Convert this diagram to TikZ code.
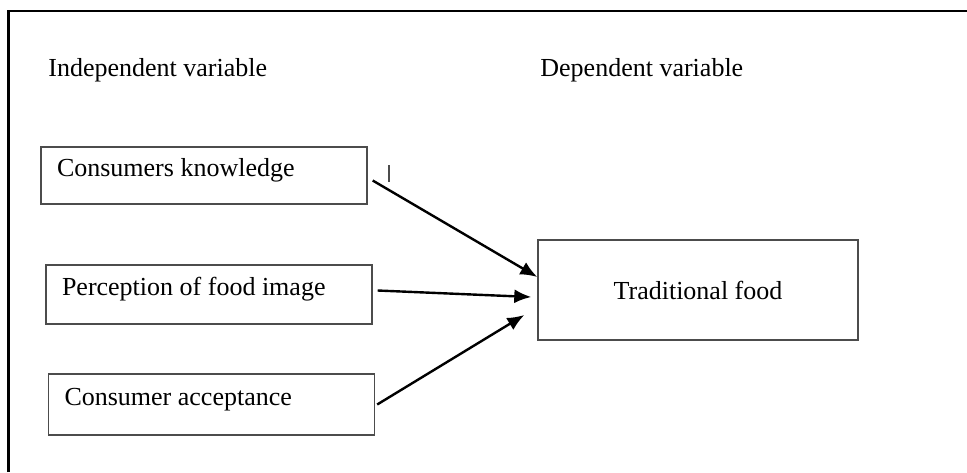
\documentclass[tikz,border=0pt]{standalone}
\usepackage{fontspec}
\setmainfont{Liberation Serif}
\usetikzlibrary{arrows.meta}

\begin{document}
\begin{tikzpicture}[x=0.5pt, y=-0.5pt,
            every node/.style={font=\fontsize{13}{15.6}\selectfont},
            heading/.style={anchor=base west, inner sep=0pt},
            varbox/.style={draw=black!70, line width=0.7pt, minimum height=30pt,
              text width=147pt, align=flush left, inner xsep=8pt,
              text height=9pt, text depth=8pt},
            arr/.style={-{Latex[length=8.5pt,width=7pt]}, line width=1.2pt, color=black}]
            \useasboundingbox (0,0) rectangle (967,472);
            \draw[line width=1.1pt] (8.5,472) -- (8.5,11) -- (967,11);
            \node[heading] (indep) at (48,76) {Independent variable};
            \node[heading] (dep) at (540,76) {Dependent variable};
            \node[varbox, minimum height=28.5pt] (ck) at (204,175.5) {Consumers knowledge};
            \node[varbox, minimum height=29.5pt] (pfi) at (209,294.5) {Perception of food image};
            \node[varbox, minimum height=30.5pt] (ca) at (211.5,404.5) {Consumer acceptance};
            \node[draw=black!70, line width=0.7pt, minimum width=160pt, minimum height=50pt] (tf) at (698,290) {Traditional food};
            \draw[arr] ([xshift=2.5pt,yshift=-2.5pt]ck.east) -- ([yshift=6.5pt]tf.west);
            \draw[arr] ([xshift=2.5pt,yshift=2pt]pfi.east) -- ([xshift=-3pt,yshift=-3.5pt]tf.west);
            \draw[arr] ([xshift=1pt]ca.east) -- ([xshift=-6.5pt,yshift=-12.5pt]tf.west);
            \draw[color=black!70, line width=0.6pt] (389,165) -- (389,182);
        \end{tikzpicture}
\end{document}
